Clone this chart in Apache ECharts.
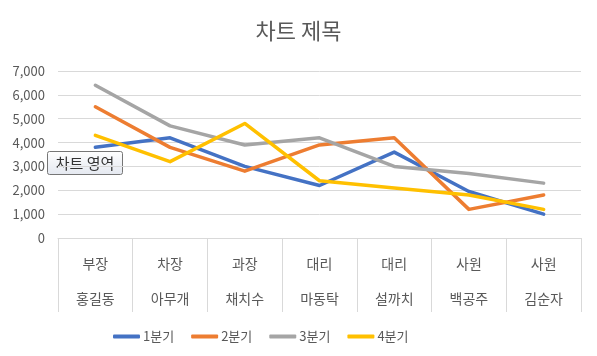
<!DOCTYPE html>
<html><head><meta charset="utf-8">
<script src="https://cdn.jsdelivr.net/npm/echarts@6/dist/echarts.min.js"></script>
<style>html,body{margin:0;padding:0;background:#fff}#c{width:597px;height:356px}</style>
</head><body><div id="c"></div>
<script>
var titleText = '차트 제목';
var positions = ['부장','차장','과장','대리','대리','사원','사원'];
var names = ['홍길동','아무개','채치수','마동탁','설까치','백공주','김순자'];
var seriesNames = ['1분기','2분기','3분기','4분기'];
var q1 = [3800, 4200, 3000, 2200, 3600, 1950, 1000];
var q2 = [5500, 3800, 2800, 3900, 4200, 1200, 1800];
var q3 = [6400, 4700, 3900, 4200, 3000, 2700, 2300];
var q4 = [4300, 3200, 4800, 2400, 2100, 1800, 1200];
var yTicks = {min: 0, max: 7000, interval: 1000};

var colors = ['#4472C4', '#ED7D31', '#A5A5A5', '#FFC000'];
var font = '"Noto Sans CJK KR", "Noto Sans", sans-serif';
var categories = positions.map(function(p, i){ return p + '\n' + names[i]; });
var data = [q1, q2, q3, q4];

var chart = echarts.init(document.getElementById('c'));
chart.setOption({
  animation: false,
  textStyle: {fontFamily: font},
  title: {text: titleText, left: 'center', top: 15,
    textStyle: {fontFamily: font, fontSize: 22, fontWeight: 'normal', color: '#595959'}},
  grid: {left: 58, right: 16, top: 71, bottom: 118},
  legend: {left: 108, top: 325, itemWidth: 27, itemHeight: 4, itemGap: 17, icon: 'roundRect',
    textStyle: {fontFamily: font, fontSize: 13, color: '#595959', padding: [0, 0, 0, -2]},
    data: seriesNames},
  xAxis: {type: 'category', data: categories, boundaryGap: true,
    axisLine: {lineStyle: {color: '#d9d9d9', width: 1}},
    axisTick: {show: true, length: 74, lineStyle: {color: '#d9d9d9', width: 1}},
    axisLabel: {fontFamily: font, fontSize: 14, color: '#595959', lineHeight: 35, margin: 8, interval: 0}},
  yAxis: {type: 'value', min: yTicks.min, max: yTicks.max, interval: yTicks.interval,
    axisLine: {show: false}, axisTick: {show: false},
    splitLine: {lineStyle: {color: '#d9d9d9', width: 1}},
    axisLabel: {fontFamily: font, fontSize: 13, color: '#595959', margin: 13,
      formatter: function(v){ return v.toLocaleString('en-US'); }}},
  series: data.map(function(d, i){
    return {name: seriesNames[i], type: 'line', data: d, symbol: 'none',
      lineStyle: {color: colors[i], width: 3.5, cap: 'round', join: 'round'},
      itemStyle: {color: colors[i]}};
  }),
  graphic: [{
    type: 'group', left: 47, top: 151, z: 100,
    children: [
      {type: 'rect', shape: {x: 0, y: 0, width: 75, height: 23, r: 2},
        style: {fill: new echarts.graphic.LinearGradient(0, 0, 0, 1, [{offset: 0, color: '#ffffff'}, {offset: 1, color: '#e4e8f0'}]),
          stroke: '#767676', lineWidth: 1}},
      {type: 'text', x: 37.5, y: 12, style: {text: '차트 영역', font: '15px ' + font, fill: '#333333', align: 'center', verticalAlign: 'middle'}}
    ]
  }]
});
</script></body></html>
